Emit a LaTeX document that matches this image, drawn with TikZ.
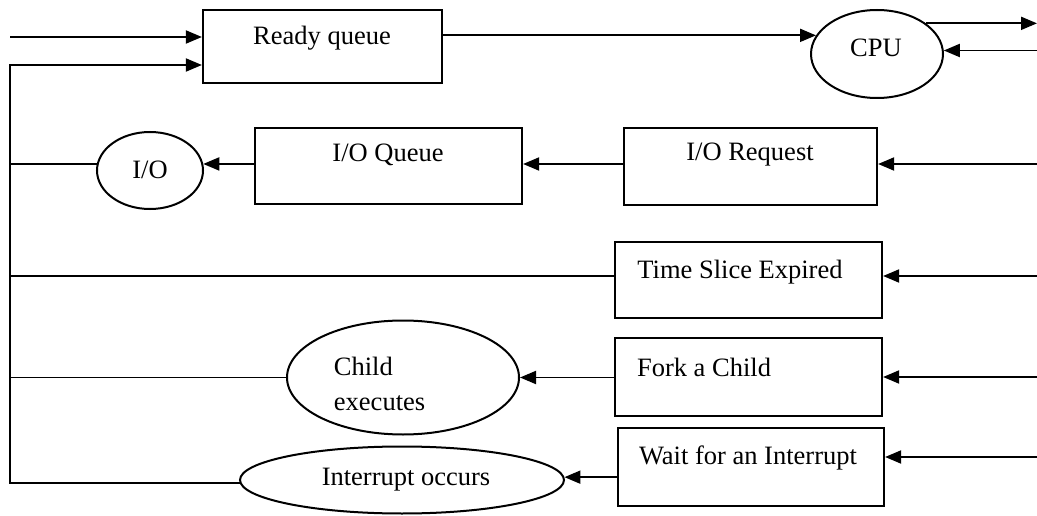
\documentclass[tikz,border=0pt]{standalone}
\usepackage{fontspec}
\setmainfont{Liberation Serif}
\usetikzlibrary{arrows.meta,shapes.geometric}
\begin{document}
\begin{tikzpicture}[x=1pt,y=-1pt,
  line width=1.9pt,
  every node/.style={font=\fontsize{26.5}{35}\selectfont, inner sep=0pt},
  boxshape/.style={draw, rectangle, line width=2.2pt},
  ellshape/.style={draw, ellipse, line width=2pt},
  lbl/.style={draw=none},
  arr/.style={-{Triangle[length=16pt,width=13pt]}}
]
\useasboundingbox (0,0) rectangle (1037,516);

% boxes
\node[boxshape, minimum width=239pt, minimum height=73pt] (ready) at (322.5,46.5) {};
\node[lbl] (readyt) at (322,38) {Ready queue};
\node[ellshape, minimum width=132pt, minimum height=88pt] (cpu) at (877,54) {};
\node[lbl] (cput) at (876,48) {CPU};

\node[boxshape, minimum width=267pt, minimum height=76pt] (ioq) at (388.5,166) {};
\node[lbl] (ioqt) at (388,155) {I/O Queue};
\node[boxshape, minimum width=253pt, minimum height=77pt] (ior) at (750.5,166.5) {};
\node[lbl] (iort) at (750,155) {I/O Request};
\node[ellshape, minimum width=106pt, minimum height=77pt] (io) at (150,170.5) {};
\node[lbl] (iot) at (150,170) {I/O};

\node[boxshape, minimum width=267pt, minimum height=76pt] (tse) at (748.5,280) {};
\node[lbl] (tset) at (740,272) {Time Slice Expired};
\node[boxshape, minimum width=267pt, minimum height=78pt] (fork) at (748.5,377) {};
\node[lbl] (forkt) at (704,367) {Fork a Child};
\node[ellshape, minimum width=232pt, minimum height=114pt] (child) at (403,377.5) {};
\node[lbl, align=left, anchor=west] (childt) at (333,384) {Child\\executes};

\node[boxshape, minimum width=266pt, minimum height=78pt] (wait) at (751,467) {};
\node[lbl] (waitt) at (748,458) {Wait for an Interrupt};
\node[ellshape, minimum width=324pt, minimum height=67pt] (intr) at (402,480) {};
\node[lbl] (intrt) at (406,480) {Interrupt occurs};

% free ends
\coordinate (inA) at (10,37);
\coordinate (loopTop) at (10,65);
\coordinate (cpuOut) at (1037,24);
\coordinate (cpuIn) at (1037,51);
\coordinate (ioIn) at (1037,164);
\coordinate (tseIn) at (1037,276);
\coordinate (forkIn) at (1037,377);
\coordinate (waitIn) at (1037,457);
\coordinate (ioL) at (10,164);
\coordinate (tseL) at (10,276);
\coordinate (childL) at (10,377.5);

% top
\draw[arr] (inA) -- (ready.west |- inA);
\draw[arr] (ready.east |- cpu.163) -- (cpu.163);
\draw[arr] (cpu.32) -- (cpuOut |- cpu.32);
\draw[arr] (cpuIn |- cpu.3) -- (cpu.3);

% I/O row
\draw[arr] (ioIn) -- (ior.east |- ioIn);
\draw[arr] (ior.west |- ioIn) -- (ioq.east |- ioIn);
\draw[arr] (ioq.west |- io.7) -- (io.7);
\draw (io.173) -- (ioL |- io.173);

% time slice
\draw[arr] (tseIn) -- (tse.east |- tseIn);
\draw (tse.west |- tseL) -- (tseL);

% fork
\draw[arr] (forkIn) -- (fork.east |- forkIn);
\draw[arr] (fork.west |- child.east) -- (child.east);
\draw (child.west) -- (childL |- child.west);

% wait
\draw[arr] (waitIn) -- (wait.east |- waitIn);
\draw[arr] (wait.west |- intr.1.4) -- (intr.1.4);

% return loop
\draw[arr] (intr.181.4) -- (loopTop |- intr.181.4) -- (loopTop) -- (ready.west |- loopTop);
\end{tikzpicture}
\end{document}
